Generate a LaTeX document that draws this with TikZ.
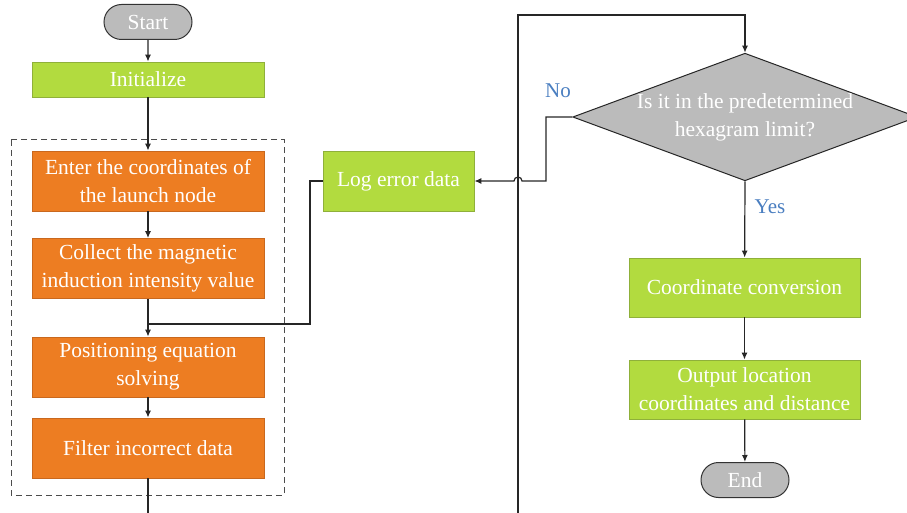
\documentclass[tikz,border=0pt]{standalone}
\usepackage{fontspec}
\setmainfont{Liberation Serif}
\usetikzlibrary{arrows.meta,shapes.geometric,shapes.misc}
\definecolor{procorange}{HTML}{ED7D22}
\definecolor{procgreen}{HTML}{B2DB3F}
\definecolor{greenedge}{HTML}{8FB03A}
\definecolor{orangeedge}{HTML}{C9681E}
\definecolor{termgray}{HTML}{BBBBBB}
\definecolor{labelblue}{HTML}{4A7EC0}
\tikzset{
  base/.style={font=\fontsize{21.5}{28}\selectfont, text=white, align=center, inner sep=0pt},
  greenbox/.style={base, rectangle, fill=procgreen, draw=greenedge, line width=0.8pt},
  orangebox/.style={base, rectangle, fill=procorange, draw=orangeedge, line width=0.8pt, minimum width=232pt, minimum height=60pt},
  terminal/.style={base, rounded rectangle, fill=termgray, draw=black!80, line width=1pt, minimum width=88pt, minimum height=35pt},
  decision/.style={base, diamond, fill=termgray, draw=black!85, line width=1pt, minimum width=344pt, minimum height=127pt, aspect=2.7},
  flow/.style={draw=black!85, line width=1.2pt, -{Latex[length=7pt,width=6pt]}},
  wire/.style={draw=black!85, line width=1.2pt},
  branch/.style={font=\fontsize{21}{24}\selectfont, text=labelblue, inner sep=0pt}
}
\begin{document}
\begin{tikzpicture}[x=1pt,y=-1pt]
\useasboundingbox (0,0) rectangle (907,513);
\clip (0,0) rectangle (907,513);

% dashed frame around the measurement steps
\draw[black!70, line width=1pt, dash pattern=on 6pt off 4pt] (11,140) rectangle (284,495);

% left column
\node[terminal] (start) at (148,22) {Start};
\node[greenbox, minimum width=232pt, minimum height=35pt] (init) at (148,79.5) {Initialize};
\node[orangebox] (enter) at (148,181) {Enter the coordinates of\\the launch node};
\node[orangebox] (collect) at (148,268.5) {Collect the magnetic\\induction intensity value};
\node[orangebox] (solve) at (148,367) {Positioning equation\\solving};
\node[orangebox] (filter) at (148,448) {Filter incorrect data};
\coordinate (leftout) at (148,513);

% middle
\node[greenbox, minimum width=151pt, minimum height=60pt] (log) at (398.5,181) {Log error data};

% right column
\node[decision] (check) at (745,117) {Is it in the predetermined\\hexagram limit?};
\node[greenbox, minimum width=231pt, minimum height=59pt] (conv) at (744.5,287.5) {Coordinate conversion};
\node[greenbox, minimum width=231pt, minimum height=59pt] (output) at (744.5,389.5) {Output location\\coordinates and distance};
\node[terminal] (finish) at (745,480) {End};

% helper points for the routed wires
\coordinate (loopbot) at (518,513);
\coordinate (looptop) at (518,15);
\coordinate (join) at (148,324);
\coordinate (logbend) at (310,324);
\coordinate (nobend) at (546,117);

% main vertical flow
\draw[flow] (start) -- (init);
\draw[flow] (init) -- (enter);
\draw[flow] (enter) -- (collect);
\draw[flow] (collect) -- (solve);
\draw[flow] (solve) -- (filter);
\draw[wire] (filter) -- (leftout);

% error log joins the main line
\draw[wire] (log.west) -| (logbend) -- (join);

% return loop into the decision
\draw[flow] (loopbot) -- (looptop) -| (check.north);

% "No" branch with a hop over the loop line
\draw[flow] (check.west) -- (nobend) |- (522,181)
  arc[start angle=0, end angle=-180, radius=4] -- (log.east);

% "Yes" branch and remaining flow
\draw[flow] (check.south) -- (conv);
\draw[flow] (conv) -- (output);
\draw[flow] (output) -- (finish);

% branch labels
\node[branch] (nolabel) at (558,91) {No};
\node[branch] (yeslabel) at (770,207) {Yes};
\end{tikzpicture}
\end{document}
